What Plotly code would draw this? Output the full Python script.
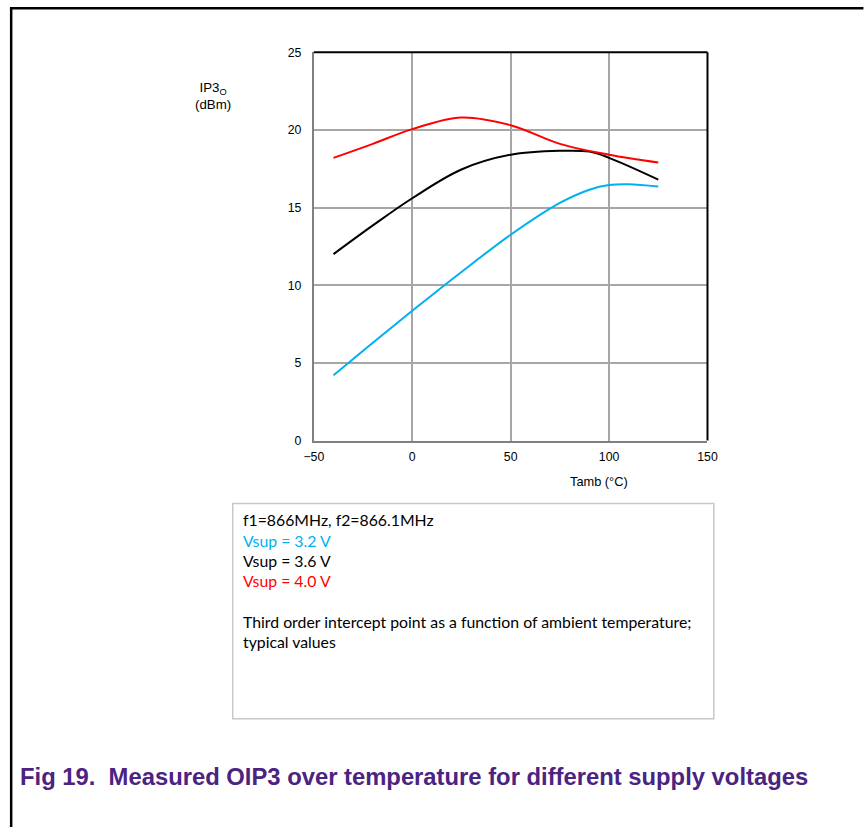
import plotly.graph_objects as go

# Data
temp_blue = [-40, -20, 0, 25, 50, 75, 90, 100, 110, 125]
oip3_32 = [4.2, 6.3, 8.35, 10.85, 13.25, 15.3, 16.15, 16.45, 16.5, 16.35]

temp_black = [-40, -20, 0, 25, 50, 75, 90, 100, 125]
oip3_36 = [12.0, 13.85, 15.6, 17.45, 18.4, 18.65, 18.6, 18.2, 16.8]

temp_red = [-40, -20, 0, 25, 50, 75, 100, 125]
oip3_40 = [18.2, 19.1, 20.05, 20.8, 20.3, 19.1, 18.4, 17.9]

x_ticks = [-50, 0, 50, 100, 150]
y_ticks = [0, 5, 10, 15, 20, 25]

W, H = 865, 827


def px(x):
    return x / W


def py(y):
    return 1 - y / H


fig = go.Figure()
series = [
    (temp_blue, oip3_32, "#00B0F0", "Vsup = 3.2 V"),
    (temp_black, oip3_36, "#000000", "Vsup = 3.6 V"),
    (temp_red, oip3_40, "#FF0000", "Vsup = 4.0 V"),
]
for xs, ys, col, name in series:
    fig.add_trace(go.Scatter(x=xs, y=ys, mode="lines", name=name,
                             line=dict(color=col, width=2, shape="spline", smoothing=1.0),
                             showlegend=False))

axis_font = dict(family="Liberation Sans, Arial, sans-serif", size=12.3, color="#000000")

fig.update_layout(
    width=W, height=H,
    margin=dict(l=0, r=0, t=0, b=0),
    paper_bgcolor="white", plot_bgcolor="white",
    xaxis=dict(domain=[px(311), px(714)], range=[-50, 150], tickvals=x_ticks,
               showgrid=True, gridcolor="#a6a6a6", gridwidth=1.5,
               showline=True, linecolor="#808080", linewidth=2,
               zeroline=False, ticks="", tickfont=axis_font, ticklabelstandoff=4),
    yaxis=dict(domain=[py(441), py(46)], range=[0, 25], tickvals=y_ticks,
               showgrid=True, gridcolor="#a6a6a6", gridwidth=1.5,
               showline=True, linecolor="#808080", linewidth=2,
               zeroline=False, ticks="", tickfont=axis_font, ticklabelstandoff=8),
    font=axis_font,
)

shapes = [
    dict(type="line", xref="x domain", yref="y domain", x0=0, x1=1, y0=1, y1=1,
         line=dict(color="#000000", width=2)),
    dict(type="line", xref="x domain", yref="y domain", x0=1, x1=1, y0=0, y1=1,
         line=dict(color="#000000", width=2)),
    dict(type="line", xref="paper", yref="paper", x0=px(1.2), x1=px(1.2), y0=-0.01, y1=py(0),
         line=dict(color="#000000", width=2.5)),
    dict(type="line", xref="paper", yref="paper", x0=0, x1=1.01, y0=py(1.2), y1=py(1.2),
         line=dict(color="#000000", width=2.5)),
    dict(type="rect", xref="paper", yref="paper", x0=px(228), x1=px(720.5), y0=py(724), y1=py(505),
         line=dict(color="#c8c8c8", width=1.5), fillcolor="rgba(0,0,0,0)"),
]
fig.update_layout(shapes=shapes)

ann = []
ann.append(dict(text="IP3<sub>O</sub><br>(dBm)", x=px(207.5), y=py(91), xref="paper", yref="paper",
                showarrow=False, xanchor="center", yanchor="middle",
                font=dict(family="Liberation Sans, Arial, sans-serif", size=13.3, color="#000000")))
ann.append(dict(text="Tamb (°C)", x=px(602.5), y=py(482.5), xref="paper", yref="paper",
                showarrow=False, xanchor="center", yanchor="middle",
                font=dict(family="Liberation Sans, Arial, sans-serif", size=12.8, color="#000000")))

note_font = "Lato, Carlito, Open Sans, sans-serif"
note_lines = [
    ("f1=866MHz, f2=866.1MHz", "#000000", 521),
    ("Vsup = 3.2 V", "#00B0F0", 542.3),
    ("Vsup = 3.6 V", "#000000", 562.6),
    ("Vsup = 4.0 V", "#FF0000", 582.9),
    ("Third order intercept point as a function of ambient temperature;", "#000000", 624.6),
    ("typical values", "#000000", 645.9),
]
for txt, col, yy in note_lines:
    ann.append(dict(text=txt, x=px(236), y=py(yy), xref="paper", yref="paper",
                    showarrow=False, xanchor="left", yanchor="middle",
                    font=dict(family=note_font, size=15.8, color=col)))

ann.append(dict(text="<b>Fig 19.  Measured OIP3 over temperature for different supply voltages</b>",
                x=px(8), y=py(783), xref="paper", yref="paper",
                showarrow=False, xanchor="left", yanchor="middle",
                font=dict(family="Liberation Sans, Arial, sans-serif", size=23.8, color="#4B2382")))

fig.update_layout(annotations=ann)

fig.write_html(
    "out.html",
    config={"displayModeBar": False},
    post_script="document.body.style.margin='0px';document.body.style.overflow='hidden';"
                "document.documentElement.style.overflow='hidden';",
)
